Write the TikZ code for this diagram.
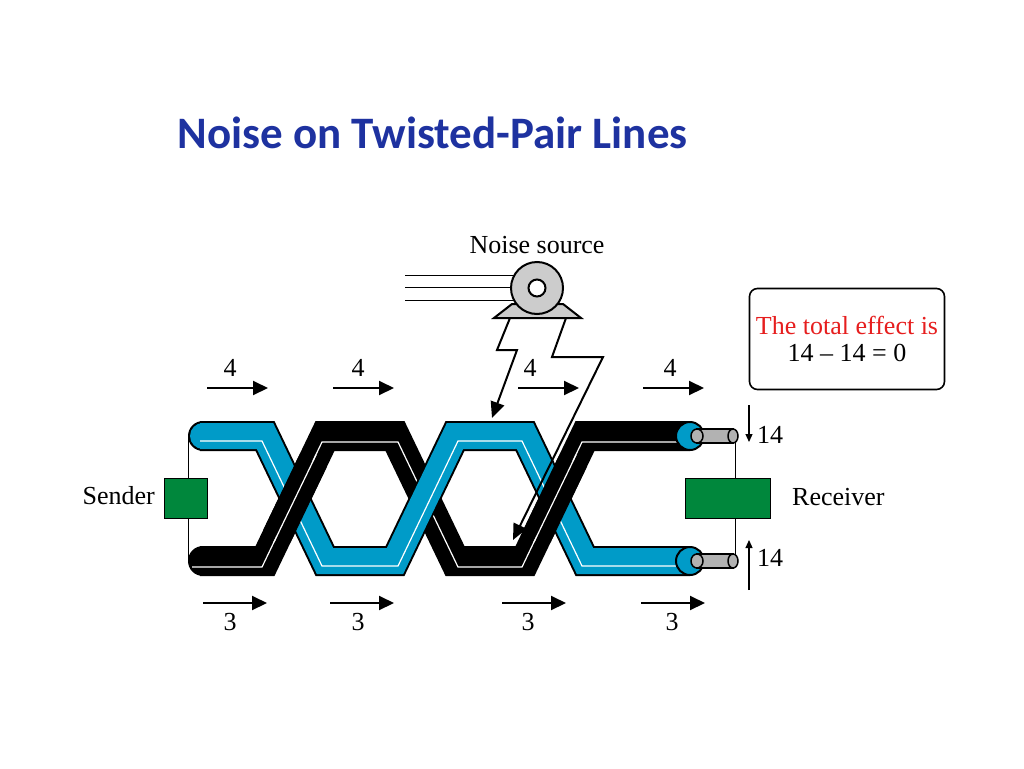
\documentclass[tikz,border=0pt]{standalone}
\usepackage{fontspec}
\setmainfont{Liberation Serif}
\newfontfamily\titlefont{Carlito}
\usetikzlibrary{arrows.meta}
\definecolor{wblue}{RGB}{0,155,200}
\definecolor{tblue}{RGB}{30,50,160}
\definecolor{sgreen}{RGB}{0,135,60}
\definecolor{tred}{RGB}{230,30,30}
\begin{document}
\begin{tikzpicture}[x=1pt,y=-1pt,
  lbl/.style={font=\fontsize{26}{28}\selectfont, inner sep=0pt},
  arr/.style={-{Triangle[length=15pt,width=14pt]}, line width=2pt},
  thin/.style={line width=1pt},
  box/.style={draw=black, fill=sgreen, line width=0.8pt, minimum height=40pt, inner sep=0pt}]
\useasboundingbox (0,0) rectangle (1024,768);
\node[font=\titlefont\bfseries\fontsize{45}{50}\selectfont, text=tblue, anchor=west] (title) at (174,133) {Noise on Twisted-Pair Lines};

% side wires and boxes
\coordinate (lt) at (188,436); \coordinate (lb) at (188,561);
\coordinate (rt) at (735,436); \coordinate (rb) at (735,561);
\draw[thin] (lt) -- (lb);
\draw[thin] (rt) -- (rb);
\node[box, minimum width=43pt] (sender) at (186,498) {};
\node[box, minimum width=85pt] (receiver) at (728,498) {};
\node[lbl, anchor=east] (st) at (155,496) {Sender};
\node[lbl, anchor=west] (rtx) at (792,497) {Receiver};

\def\blk{(200,561)--(265,561)--(325,436)--(395,436)--(455,561)--(525,561)--(585,436)--(690,436)}
\def\blu{(200,436)--(265,436)--(325,561)--(395,561)--(455,436)--(525,436)--(585,561)--(690,561)}
% black wire
\draw[line width=30pt, line cap=round] (203,561) -- (204,561);
\draw[line width=30pt, line join=miter] \blk;
\draw[white, line width=1.2pt] (192,567)--(262,567)--(322,442)--(398,442)--(458,567)--(522,567)--(582,442)--(690,442);
% blue wire
\draw[line width=30pt, line cap=round] (203,436) -- (204,436);
\draw[line width=30pt, line join=miter] \blu;
\draw[wblue, line width=26pt, line cap=round] (203,436) -- (204,436);
\draw[wblue, line width=26pt, line join=miter] \blu;
\draw[white, line width=1.2pt] (200,441)--(262,441)--(322,566)--(398,566)--(458,441)--(522,441)--(582,566)--(690,566);
% black over at crossings 1 and 3
\draw[line width=30pt] (277,536)--(313,461);
\draw[white, line width=1.2pt] (274,542)--(316,455);
\draw[line width=30pt] (537,536)--(573,461);
\draw[white, line width=1.2pt] (534,542)--(576,455);
% right ends with plugs
\foreach \y in {436,561}{
  \draw[black, line width=2pt, fill=wblue] (690,\y) circle (14);
  \draw[line width=1.5pt, fill=gray!60] (697,\y-7) rectangle (733,\y+7);
  \draw[line width=1.5pt, fill=gray!60] (697,\y) ellipse (6 and 7);
  \draw[line width=1.5pt, fill=gray!60] (733,\y) ellipse (5 and 7);
}

% arrows
\foreach \x/\l [count=\i] in {207/230,333/358,518/530,643/670}{
  \node[lbl] (t\i) at (\l,368) {4};
  \coordinate (ta\i) at (\x,388); \coordinate (tb\i) at (\x+61,388);
  \draw[arr] (ta\i) -- (tb\i);
}
\foreach \x/\l [count=\i] in {203/230,330/358,502/528,641/672}{
  \node[lbl] (b\i) at (\l,622) {3};
  \coordinate (ba\i) at (\x,603); \coordinate (bb\i) at (\x+64,603);
  \draw[arr] (ba\i) -- (bb\i);
}
\coordinate (d1) at (749,405); \coordinate (d2) at (749,442);
\draw[-{Triangle[length=8pt,width=7pt]}, line width=1.2pt] (d1) -- (d2);
\node[lbl, anchor=west] (n14a) at (757,435) {14};
\coordinate (u1) at (749,590); \coordinate (u2) at (749,540);
\draw[-{Triangle[length=8pt,width=7pt]}, line width=1.2pt] (u1) -- (u2);
\node[lbl, anchor=west] (n14b) at (757,558) {14};

% noise source
\node[lbl] (ns) at (537,245) {Noise source};
\foreach \y in {275,287,300}{ \draw[line width=0.8pt] (405,\y) -- (525,\y); }
\draw[line width=2pt, fill=gray!40] (494,318) -- (512,304) -- (563,304) -- (581,318) -- cycle;
\node[circle, draw, line width=2pt, fill=gray!40, minimum size=52pt, inner sep=0pt] (src) at (537,288) {};
\node[circle, draw, line width=2pt, fill=white, minimum size=17pt, inner sep=0pt] (hole) at (537,288) {};
\coordinate (e1) at (492,418); \coordinate (e2) at (513,540);
\draw[line width=2pt, -{Triangle[length=16pt,width=14pt]}] (510,318) -- (497,350) -- (517,350) -- (e1);
\draw[line width=2pt, -{Triangle[length=16pt,width=14pt]}] (566,318) -- (552,357) -- (603,357) -- (e2);

% text box
\node[draw, rounded corners=8pt, line width=1.6pt, minimum width=195pt, minimum height=101pt, align=center, font=\fontsize{26}{27}\selectfont] (tb) at (847,339) {\textcolor{tred}{The total effect is}\\14 -- 14 = 0};
\end{tikzpicture}
\end{document}
